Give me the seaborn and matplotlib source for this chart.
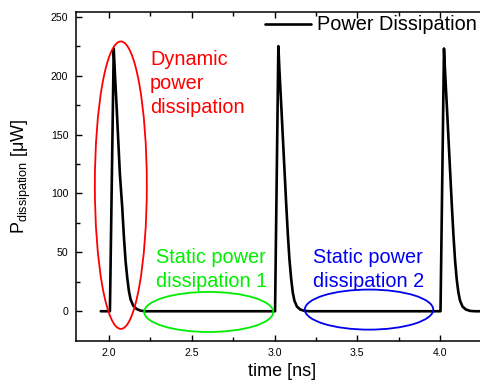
import matplotlib
matplotlib.use("Agg")
import matplotlib.pyplot as plt
import seaborn as sns
import pandas as pd
from matplotlib.patches import Ellipse

# ---- data ----
time_ns = [1.95, 2.00, 2.005, 2.028, 2.035, 2.045, 2.055, 2.065, 2.079, 2.090, 2.100,
           2.110, 2.120, 2.130, 2.145, 2.165, 2.190, 2.220,
           3.000, 3.003, 3.023, 3.030, 3.040, 3.050, 3.060, 3.070, 3.080, 3.090,
           3.100, 3.110, 3.120, 3.135, 3.155, 3.180, 3.210,
           4.000, 4.003, 4.024, 4.031, 4.041, 4.051, 4.061, 4.071, 4.081, 4.091,
           4.101, 4.111, 4.121, 4.136, 4.156, 4.181, 4.211, 4.300]
power_uW = [0, 0, 0, 223, 202, 175, 146, 117, 89, 62, 42,
            28, 17, 10, 5, 2, 0.5, 0,
            0, 0, 225, 203, 176, 148, 120, 92, 66, 44,
            28, 16, 9, 4, 1.5, 0.3, 0,
            0, 0, 223, 202, 175, 147, 119, 91, 65, 43,
            27, 16, 9, 4, 1.5, 0.3, 0, 0]
series_label = "Power Dissipation"

x_ticks = [2.0, 2.5, 3.0, 3.5, 4.0]
y_ticks = [0, 50, 100, 150, 200, 250]

# annotation regions: (center x, center y, width, height, colour)
ellipse_cx = [2.071, 2.602, 3.571]
ellipse_cy = [107, -0.6, 1.4]
ellipse_w = [0.314, 0.78, 0.776]
ellipse_h = [244, 34, 34]
ellipse_colors = ["#ff0000", "#00ee00", "#0000ee"]
annot_texts = ["Dynamic\npower\ndissipation", "Static power\ndissipation 1", "Static power\ndissipation 2"]
annot_x = [2.248, 2.282, 3.233]
annot_y = [222, 54, 54]

# ---- plot ----
sns.set_style("ticks")
plt.rcParams["font.family"] = ["Liberation Sans", "DejaVu Sans"]
plt.rcParams["mathtext.fontset"] = "custom"
plt.rcParams["mathtext.rm"] = "Liberation Sans"
plt.rcParams["mathtext.it"] = "Liberation Sans:italic"
for k in ["text.color", "axes.labelcolor", "xtick.color", "ytick.color", "axes.edgecolor"]:
    plt.rcParams[k] = "black"

fig = plt.figure(figsize=(4.8, 3.92), dpi=100)
ax = fig.add_axes([76 / 480, 1 - 340.7 / 392, 412 / 480, (340.7 - 12) / 392])

df = pd.DataFrame({"time": time_ns, "power": power_uW})
sns.lineplot(data=df, x="time", y="power", ax=ax, color="black", lw=1.9,
             label=series_label, sort=False, estimator=None)

for cx, cy, w, h, c in zip(ellipse_cx, ellipse_cy, ellipse_w, ellipse_h, ellipse_colors):
    ax.add_patch(Ellipse((cx, cy), w, h, fill=False, edgecolor=c, lw=1.3, zorder=3))
for t, x, y, c in zip(annot_texts, annot_x, annot_y, ellipse_colors):
    ax.text(x, y, t, color=c, fontsize=14.3, ha="left", va="top", linespacing=1.33)

ax.set_xlim(1.8, 4.29)
ax.set_ylim(-25, 254)
ax.set_xticks(x_ticks)
ax.set_yticks(y_ticks)
ax.set_xticks([2.25, 2.75, 3.25, 3.75, 4.25], minor=True)
ax.set_yticks([25, 75, 125, 175, 225], minor=True)
ax.tick_params(which="both", direction="in", top=True, right=True, labelsize=7.6,
               width=1, color="black", labelcolor="black")
ax.tick_params(which="major", length=4.5)
ax.tick_params(which="minor", length=2.8)
ax.tick_params(axis="y", which="major", pad=5.5)
ax.tick_params(axis="x", which="major", pad=5)
for s in ax.spines.values():
    s.set_linewidth(1.1)
    s.set_color("black")

ax.set_xlabel("time [ns]", fontsize=13, color="black")
ax.set_ylabel(r"P$_{\mathrm{dissipation}}$ [μW]", fontsize=13, labelpad=13, color="black")

leg = ax.legend(loc="center left", bbox_to_anchor=(265 / 480, 1 - 25 / 392),
                bbox_transform=fig.transFigure, frameon=False, fontsize=14.3,
                handlelength=2.3, handletextpad=0.34, borderpad=0, borderaxespad=0)
for txt in leg.get_texts():
    txt.set_color("black")

fig.savefig("out.png", dpi=100)
